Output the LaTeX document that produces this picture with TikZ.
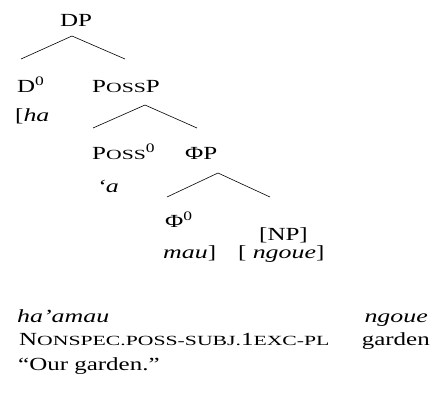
\documentclass[tikz,border=0pt]{standalone}
\usepackage{fontspec}
\setmainfont[FakeStretch=1.35, ItalicFeatures={FakeStretch=1.4}]{Liberation Serif}
\newfontfamily\scfont[FakeStretch=1.55]{Liberation Serif}
\usepackage{tikz}

% fake small capitals and the head superscript
\newcommand{\fsc}[1]{{\scfont\fontsize{14}{14}\selectfont\MakeUppercase{#1}}}
\newcommand{\hd}{\textsuperscript{0}}

\begin{document}
\begin{tikzpicture}[x=1pt, y=-1pt,
    word/.style={inner sep=0pt, anchor=base west, font=\fontsize{18.5}{22}\selectfont},
    wordR/.style={word, anchor=base east},
    roof/.style={line width=0.6pt}
  ]
    \useasboundingbox (0,0) rectangle (432,392);

    %--- Tree labels
    \node[word] (dp)    at (60,26)   {DP};
    \node[word] (d0)    at (17,92)   {D\hd};
    \node[word] (possp) at (92,92)   {P\fsc{oss}P};
    \node[word] (ha)    at (15,121)  {[\textit{ha}};
    \node[word] (poss0) at (92,159)  {P\fsc{oss}\hd};
    \node[word] (phip)  at (185,159) {ΦP};
    \node[word] (a)     at (97,192)  {\textit{‘a}};
    \node[word] (phi0)  at (165,227) {Φ\hd};
    \node[word] (np)    at (259,240) {[NP]};
    \node[word] (mau)   at (163,258) {\textit{mau}]};
    \node[word] (ngoue) at (238,258) {[ \textit{ngoue}]};

    %--- Roofs: apex under the parent, legs over the daughters
    \coordinate (dp-a) at (72,36);     \coordinate (dp-l) at (21,59);     \coordinate (dp-r) at (125,59);
    \coordinate (possp-a) at (145,105); \coordinate (possp-l) at (93,128); \coordinate (possp-r) at (197,128);
    \coordinate (phip-a) at (218,173); \coordinate (phip-l) at (167,197); \coordinate (phip-r) at (270,197);

    \draw[roof] (dp-l) -- (dp-a) -- (dp-r);
    \draw[roof] (possp-l) -- (possp-a) -- (possp-r);
    \draw[roof] (phip-l) -- (phip-a) -- (phip-r);

    %--- Gloss lines
    \node[word]  (form)   at (17,322)  {\textit{ha’amau}};
    \node[wordR] (formN)  at (428,322) {\textit{ngoue}};
    \node[word]  (gloss)  at (19,345)  {N\fsc{onspec.poss-subj.}1\fsc{exc-pl}};
    \node[wordR] (glossN) at (430,345) {garden};
    \node[word]  (trans)  at (18,370)  {“Our garden.”};
\end{tikzpicture}
\end{document}
